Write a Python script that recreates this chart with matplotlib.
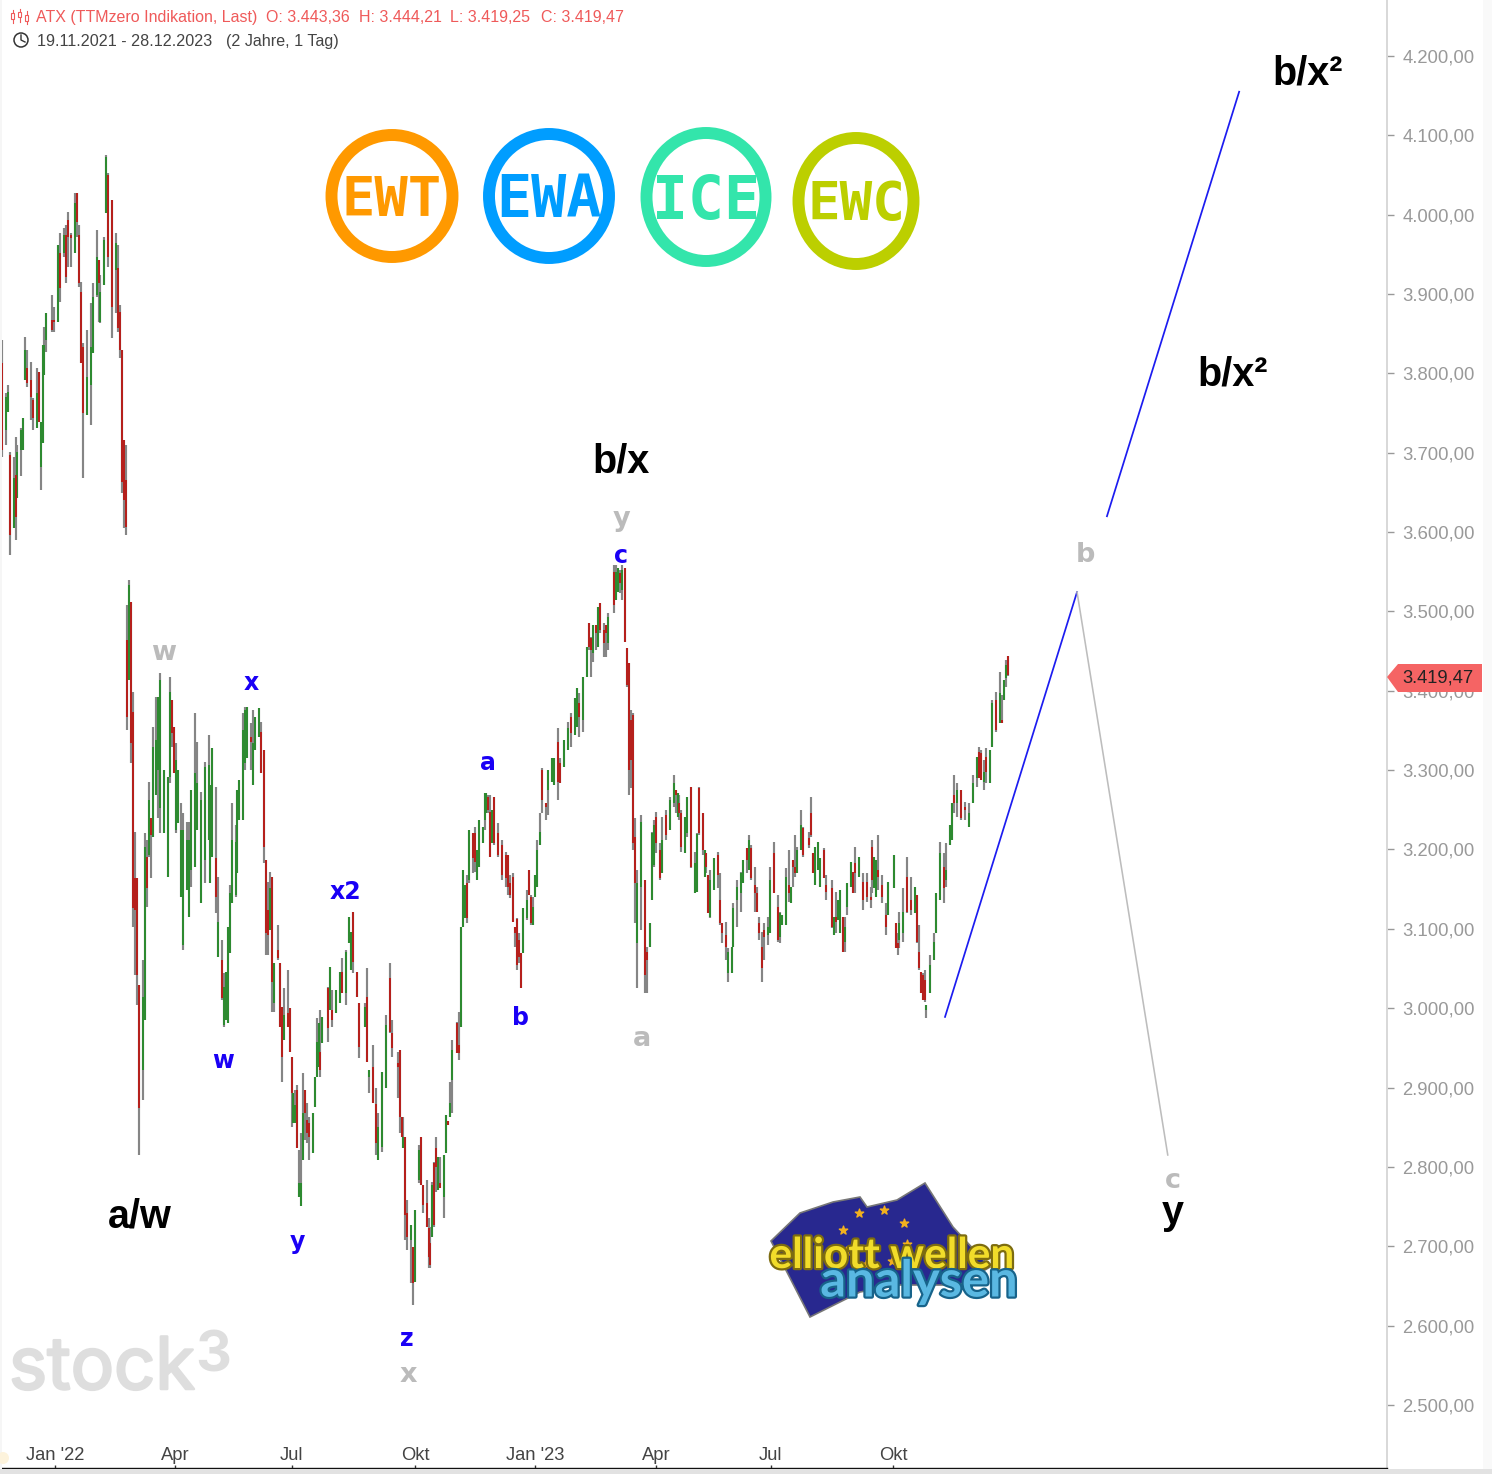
import numpy as np
import matplotlib
matplotlib.use("Agg")
import matplotlib.pyplot as plt
from matplotlib.patches import Polygon, Ellipse, Rectangle
import matplotlib.patheffects as pe

plt.rcParams['font.family'] = ['Liberation Sans', 'DejaVu Sans']

# (session, high, low, open, close)
BARS_A = [(0,3842,3695,3813,3703),(2,3775,3710,3729,3770),(3,3785,3751,3751,3777),(4,3701,3571,3697,3596),
(6,3695,3605,3605,3668),(7,3720,3590,3672,3619),(8,3710,3643,3643,3701),(10,3731,3671,3703,3729),
(11,3744,3703,3703,3744),(12,3846,3792,3792,3830),(13,3830,3783,3807,3788),(15,3814,3741,3792,3770),
(16,3769,3729,3766,3744),(18,3807,3731,3731,3775),(19,3802,3739,3802,3739),(20,3739,3653,3682,3739),
(21,3836,3712,3712,3836),(22,3858,3798,3798,3836),(23,3876,3827,3842,3876),(26,3899,3852,3867,3855),
(27,3884,3852,3867,3865),(29,3962,3865,3865,3962),(30,3977,3890,3952,3908),(32,3983,3947,3952,3974),
(33,3987,3914,3974,3922),(34,4003,3934,3993,3972),(36,3977,3934,3974,3971),(38,4027,3952,3952,4015),
(39,4027,3972,4027,3991),(40,3987,3909,3974,3914),(41,3915,3813,3903,3813),(42,3838,3668,3833,3750),
(44,3855,3748,3748,3796),(46,3889,3735,3785,3833),(47,3914,3826,3826,3896),(49,3981,3896,3899,3947),
(50,3943,3865,3943,3914),(51,3924,3864,3865,3903),(53,3972,3911,3911,3968),(54,4075,4002,4002,4073),
(55,4053,3934,4050,3947),(57,4019,3845,4019,3884),(59,3977,3876,3930,3964),(60,3962,3852,3933,3857),
(61,3886,3819,3877,3830),(62,3830,3649,3830,3663),(63,3716,3605,3716,3640),(64,3710,3596,3666,3606)]

BARS_B = [(65,3508,3351,3464,3367),(66,3540,3414,3414,3533),(67,3512,3309,3512,3334),(68,3398,3102,3373,3126),
(69,3222,3042,3164,3124),(70,3164,3004,3164,3042),(71,3029,2815,3029,2874),(73,3061,2884,2922,3014),
(74,3221,2985,2985,3203),(75,3212,3128,3191,3152),(76,3285,3191,3193,3262),(77,3240,3164,3240,3218),
(78,3354,3216,3216,3329),(80,3392,3269,3269,3338),(81,3392,3240,3300,3392),(82,3422,3221,3252,3414),
(84,3300,3221,3221,3300),(86,3291,3165,3165,3291),(87,3417,3284,3291,3398),(88,3388,3329,3388,3347),
(89,3354,3296,3354,3296),(90,3334,3221,3225,3313),(91,3300,3233,3233,3300),(93,3259,3140,3140,3225),
(94,3246,3073,3080,3225),(96,3235,3149,3149,3212),(97,3235,3115,3115,3212),(98,3275,3153,3174,3275),
(100,3372,3178,3178,3296),(101,3335,3225,3225,3284),(103,3272,3133,3133,3262),(105,3310,3158,3187,3304),
(107,3344,3212,3212,3306),(108,3281,3158,3158,3281),(109,3328,3191,3191,3328),(111,3279,3120,3189,3140),
(112,3165,3065,3065,3109),(114,3086,3010,3061,3013),(115,3044,2976,2979,3027),(116,3046,2985,2985,3046),
(117,3102,2981,2981,3102),(118,3155,3070,3070,3145),(119,3259,3133,3133,3212),(121,3231,3140,3143,3209),
(122,3275,3170,3170,3275),(123,3288,3237,3237,3288),(125,3372,3237,3237,3351),(126,3380,3300,3309,3376),
(127,3380,3315,3315,3380),(129,3359,3300,3342,3336),(130,3376,3281,3281,3334),(131,3367,3325,3325,3367),
(133,3378,3342,3342,3378),(134,3361,3296,3348,3296),(136,3325,3183,3325,3203),(137,3187,3067,3187,3095),
(138,3159,3067,3124,3092),(139,3172,3099,3099,3152),(140,3165,2995,3165,3033),(141,3057,2995,3007,3057),
(143,3105,3061,3073,3063),(144,3057,2976,3057,2976)]

BARS_C = [(145,3001,2907,3001,2938),(146,3025,2960,2960,2991),(148,3048,2976,2994,2976),(149,3000,2945,3000,2945),
(150,2938,2850,2938,2893),(151,2893,2855,2855,2893),(152,2897,2855,2855,2878),(153,2903,2824,2897,2824),
(154,2821,2762,2762,2780),(155,2843,2751,2751,2780),(156,2918,2809,2809,2868),(157,2897,2834,2897,2868),
(158,2880,2830,2859,2843),(159,2863,2809,2855,2838),(161,2868,2817,2817,2868),(162,2913,2876,2876,2913),
(163,2988,2913,2913,2957),(164,2981,2926,2926,2981),(165,2998,2913,2945,2922),(166,2989,2956,2956,2989),
(169,3027,2957,3025,2975),(170,3052,2998,2998,3052),(171,3023,2976,2998,2985),(173,3023,2994,2994,3023),
(175,3046,3007,3007,3046),(176,3063,3019,3046,3019),(178,3073,3004,3019,3071),(180,3115,3082,3082,3115),
(181,3096,3048,3048,3096),(182,3121,3044,3121,3058),(184,3046,3014,3046,3014),(185,3007,2937,3007,2951),
(188,3007,2976,2976,3001),(189,3051,2932,3014,2932),(190,2922,2893,2913,2922),(192,2954,2880,2926,2880),
(194,2899,2815,2879,2830),(195,2868,2809,2809,2850),(197,2920,2819,2825,2920),(199,2991,2899,2899,2979),
(201,3057,2969,3038,2970),(202,2985,2938,2969,2950),(205,2945,2887,2931,2926),(206,2947,2843,2947,2863),
(207,2863,2838,2863,2838),(208,2863,2824,2824,2838),(209,2838,2708,2838,2739),(210,2758,2695,2742,2712),
(212,2727,2654,2708,2727),(213,2699,2626,2699,2654),(214,2746,2655,2655,2746),(216,2828,2780,2783,2821),
(217,2838,2777,2838,2777),(218,2777,2742,2777,2752),(220,2783,2724,2754,2724),(221,2736,2673,2723,2686),
(222,2724,2673,2704,2676),(223,2781,2712,2712,2777),(224,2806,2724,2805,2727),(225,2838,2768,2824,2800),
(226,2812,2771,2771,2812),(227,2812,2773,2780,2773),(229,2815,2736,2762,2815),(230,2865,2817,2817,2865),
(231,2858,2853,2858,2853),(232,2907,2863,2863,2880),(233,2960,2868,2909,2947),(236,2983,2944,2981,2944),
(237,2995,2935,2954,2944),(238,3102,2976,2976,3102),(239,3174,3102,3102,3174)]

BARS_D = [(240,3155,3114,3114,3155),(241,3168,3107,3158,3114),(242,3225,3158,3162,3225),(244,3221,3170,3221,3189),
(245,3228,3172,3221,3184),(246,3199,3162,3162,3199),(247,3237,3178,3178,3237),(249,3228,3208,3208,3228),
(250,3271,3225,3237,3271),(251,3271,3246,3246,3271),(252,3269,3246,3266,3250),(253,3269,3191,3247,3191),
(254,3250,3208,3208,3250),(255,3266,3206,3266,3208),(257,3233,3191,3221,3193),(259,3212,3162,3206,3168),
(261,3197,3153,3193,3164),(262,3193,3143,3193,3153),(263,3168,3139,3158,3143),(265,3170,3109,3165,3109),
(266,3102,3077,3102,3095),(267,3114,3048,3112,3054),(268,3095,3057,3086,3065),(269,3070,3026,3070,3026),
(270,3126,3070,3070,3126),(272,3149,3111,3114,3136),(273,3174,3143,3174,3143),(274,3143,3105,3140,3107),
(275,3140,3105,3105,3128),(276,3168,3140,3140,3168),(277,3212,3153,3153,3199),(279,3246,3206,3206,3222),
(280,3303,3246,3300,3262),(282,3259,3237,3259,3254),(283,3300,3243,3275,3300),(285,3315,3285,3285,3315),
(286,3315,3281,3281,3315),(288,3353,3262,3335,3285),(289,3315,3284,3309,3284),(291,3338,3304,3304,3338),
(293,3361,3325,3325,3353),(295,3372,3329,3367,3347),(297,3391,3344,3344,3391),(298,3404,3354,3354,3404),
(299,3397,3342,3385,3367),(301,3417,3348,3363,3417),(303,3455,3417,3417,3455),(304,3485,3451,3485,3455),
(305,3468,3417,3467,3451),(306,3483,3436,3448,3483),(308,3483,3451,3483,3473),(309,3506,3455,3455,3506),
(310,3511,3473,3511,3477),(312,3485,3442,3477,3460),(313,3483,3442,3483,3473),(314,3498,3451,3460,3493),
(317,3559,3498,3550,3508),(318,3559,3514,3514,3550),(319,3555,3524,3524,3555),(320,3552,3523,3548,3536),
(321,3559,3514,3527,3552),(323,3555,3462,3555,3462),(324,3454,3405,3454,3407),(325,3435,3269,3435,3300),
(326,3376,3278,3363,3313),(327,3372,3199,3370,3208)]

BARS_E = [(328,3240,3107,3216,3158),(329,3174,3025,3082,3158),(331,3243,3098,3153,3235),(333,3162,3019,3162,3042),
(334,3077,3019,3071,3061),(336,3107,3077,3077,3107),(337,3222,3136,3136,3221),(338,3237,3178,3181,3231),
(339,3247,3196,3241,3208),(341,3208,3162,3199,3164),(342,3241,3170,3170,3212),(344,3250,3212,3243,3218),
(346,3266,3225,3225,3262),(348,3294,3254,3259,3284),(349,3275,3246,3275,3269),(350,3271,3241,3241,3271),
(351,3269,3237,3259,3246),(352,3250,3197,3246,3203),(354,3241,3196,3196,3241),(355,3266,3216,3221,3266),
(357,3279,3177,3279,3178),(359,3197,3145,3145,3183),(360,3221,3146,3146,3219),(361,3279,3218,3278,3221),
(363,3246,3193,3246,3199),(364,3199,3165,3165,3199),(365,3196,3170,3196,3178),(366,3168,3120,3168,3120),
(367,3174,3114,3115,3162),(369,3189,3149,3149,3189),(371,3197,3152,3193,3168),(372,3170,3105,3136,3107),
(373,3107,3082,3107,3095),(375,3109,3061,3092,3077),(376,3076,3033,3044,3071),(378,3077,3044,3044,3077),
(379,3133,3077,3077,3126),(381,3162,3102,3136,3153)]

BARS_F = [(383,3172,3121,3145,3170),(384,3187,3158,3158,3187),(386,3202,3170,3202,3187),(387,3218,3174,3174,3212),
(388,3206,3162,3202,3164),(390,3178,3121,3155,3145),(391,3153,3121,3145,3121),(392,3115,3086,3107,3095),
(394,3096,3033,3077,3051),(395,3107,3061,3098,3090),(397,3115,3080,3092,3102),(398,3178,3095,3095,3162),
(400,3209,3145,3196,3145),(402,3143,3083,3128,3086),(403,3121,3082,3090,3120),(404,3117,3105,3105,3117),
(406,3177,3105,3105,3165),(408,3199,3134,3155,3145),(409,3153,3133,3133,3153),(410,3187,3153,3187,3178),
(411,3218,3165,3178,3170),(412,3203,3170,3170,3199),(414,3250,3199,3199,3231),(415,3228,3191,3227,3193),
(418,3222,3202,3214,3206),(419,3266,3216,3246,3218),(420,3196,3170,3196,3170),(421,3203,3155,3155,3203),
(423,3209,3174,3174,3209),(424,3189,3153,3153,3189),(426,3202,3164,3199,3164),(427,3168,3136,3155,3146),
(430,3162,3101,3152,3102),(431,3115,3092,3092,3115),(432,3146,3095,3115,3109),(433,3136,3111,3111,3136),
(434,3149,3095,3095,3149),(436,3115,3071,3115,3071),(437,3115,3071,3083,3102),(438,3158,3117,3128,3158),
(440,3184,3153,3153,3184),(441,3172,3145,3172,3145),(442,3203,3145,3183,3170),(444,3191,3165,3165,3191),
(446,3170,3124,3159,3136),(448,3170,3134,3159,3140),(450,3153,3126,3140,3136),(451,3212,3145,3203,3162),
(452,3191,3152,3152,3191),(453,3187,3140,3140,3187),(454,3218,3149,3174,3165),(456,3168,3133,3155,3140),
(458,3133,3092,3117,3102),(459,3159,3117,3117,3159),(462,3193,3152,3152,3193),(463,3107,3076,3107,3076),
(464,3095,3067,3082,3076),(465,3121,3076,3086,3107),(467,3152,3083,3095,3121),(469,3191,3120,3165,3121),
(471,3165,3117,3136,3124),(473,3153,3120,3120,3153),(474,3143,3082,3143,3083),(475,3105,3048,3071,3051),
(476,3046,3019,3046,3019),(477,3044,3010,3042,3010),(478,3048,3008,3035,3010),(479,3004,2988,2998,3004),
(481,3067,3019,3019,3054),(483,3095,3061,3061,3083),(484,3145,3095,3095,3145),(486,3209,3136,3136,3196),
(488,3196,3133,3178,3152),(489,3208,3153,3162,3174),(491,3231,3206,3206,3231),(492,3259,3212,3212,3259),
(493,3294,3246,3269,3259),(495,3284,3241,3259,3275),(497,3275,3237,3275,3240),(499,3260,3237,3254,3250),
(501,3259,3228,3228,3246),(503,3294,3259,3259,3284),(505,3317,3279,3290,3317),(506,3329,3296,3323,3290),
(507,3325,3288,3322,3288),(509,3313,3275,3285,3298),(510,3328,3284,3317,3298),(512,3325,3284,3284,3325),
(513,3388,3329,3329,3385),(515,3398,3348,3388,3351),(517,3424,3359,3359,3397),(518,3395,3359,3363,3359),
(519,3414,3388,3388,3414),(520,3439,3405,3416,3432),(521,3444.21,3419.25,3443.36,3419.47)]

# projected wave paths (session, price)
WAVE_UP = [(488.6,2989),(557,3524.5)]
WAVE_DOWN = [(557,3524.5),(604,2815)]
WAVE_ALT = [(572.5,3620),(641,4155)]

Y_TICKS = list(range(2500, 4201, 100))
X_TICK_SESSIONS = [27.5, 89.6, 150, 214, 276, 339, 398.4, 461.6]
X_TICK_LABELS = ["Jan '22", "Apr", "Jul", "Okt", "Jan '23", "Apr", "Jul", "Okt"]
LAST_CLOSE = 3419.47

def de(v):
    return f"{v:,.2f}".replace(",", "#").replace(".", ",").replace("#", ".")

W, H = 1492, 1474
fig = plt.figure(figsize=(W/100, H/100), dpi=100, facecolor="white")
ax = fig.add_axes([0, 6/H, 1387/W, 1468/H])
ax.set_xlim(-1.036, 717.6)
ax.set_ylim(2420.5, 4270.6)

rows = np.array(BARS_A + BARS_B + BARS_C + BARS_D + BARS_E + BARS_F, dtype=float)
sess, hi, lo, op, cl = rows.T
RED, GREEN, WICK = "#b5201c", "#2d8a30", "#858585"
ax.vlines(sess, lo, hi, color=WICK, lw=1.55, capstyle="butt", zorder=2)
up = cl >= op
ax.vlines(sess[up], op[up], cl[up], color=GREEN, lw=1.45, capstyle="butt", zorder=3)
ax.vlines(sess[~up], cl[~up], op[~up], color=RED, lw=1.45, capstyle="butt", zorder=3)

ax.plot(*zip(*WAVE_UP), color="#1c1cf0", lw=1.25, zorder=4)
ax.plot(*zip(*WAVE_ALT), color="#1c1cf0", lw=1.25, zorder=4)
ax.plot(*zip(*WAVE_DOWN), color="#bdbdbd", lw=1.15, zorder=4)

for s in ("top", "left"):
    ax.spines[s].set_visible(False)
ax.spines["right"].set_color("#d8d8d8")
ax.spines["right"].set_linewidth(1.4)
ax.spines["bottom"].set_color("#111111")
ax.spines["bottom"].set_linewidth(1.0)
ax.yaxis.tick_right()
ax.set_yticks(Y_TICKS)
ax.set_yticklabels([de(v) for v in Y_TICKS], fontsize=13.3, color="#999999")
ax.tick_params(axis="y", length=5, width=1, color="#999999", pad=6)
ax.set_xticks(X_TICK_SESSIONS)
ax.set_xticklabels(X_TICK_LABELS, fontsize=13.2, color="#444444")
ax.tick_params(axis="x", direction="in", length=2.5, width=1, color="#333333", pad=-15.2)

# overlay in figure pixels
ov = fig.add_axes([0, 0, 1, 1], facecolor="none")
ov.set_xlim(0, W); ov.set_ylim(H, 0); ov.axis("off")

ov.add_patch(Rectangle((0, 1469), W, 5, fc="#e2e2e2", ec="none", zorder=1))
ov.add_patch(Rectangle((1483, 0), 9, 1469, fc="#f9f9f9", ec="none", zorder=1))
ov.add_patch(Rectangle((0, 0), 2, 1469, fc="#f6f6f6", ec="none", zorder=1))
ov.add_patch(Ellipse((3, 1458), 12, 12, fc="#fdf3dc", ec="none", zorder=1))

# header
HC = "#ef5a5a"
for x, t in [(36, "ATX (TTMzero Indikation, Last)"), (266, "O: 3.443,36"), (359, "H: 3.444,21"),
             (450, "L: 3.419,25"), (541, "C: 3.419,47")]:
    ov.text(x, 17, t, fontsize=11.5, color=HC, va="center", ha="left")
for x, y0, y1, b0, b1 in [(12.5, 10, 23, 13, 19), (19.5, 9, 22, 12, 17), (26.5, 11, 24, 15, 21)]:
    ov.plot([x, x], [y0, y1], color=HC, lw=0.8)
    ov.add_patch(Rectangle((x-1.6, b0), 3.2, b1-b0, fc="white", ec=HC, lw=0.8, zorder=3))
ov.add_patch(Ellipse((21, 40), 14, 14, fc="none", ec="#333333", lw=1.1))
ov.plot([21, 21, 25], [35, 40, 42], color="#333333", lw=1.0)
ov.text(37, 41, "19.11.2021 - 28.12.2023", fontsize=11.6, color="#444444", va="center")
ov.text(226, 41, "(2 Jahre, 1 Tag)", fontsize=11.6, color="#444444", va="center")

# price tag
ov.add_patch(Polygon([(1387, 677), (1398, 664), (1482, 664), (1482, 692), (1398, 692)], fc="#f56464", ec="none", zorder=5))
ov.text(1438, 678, de(LAST_CLOSE), fontsize=13.2, color="#222222", ha="center", va="center", zorder=6)

# wave labels
BLUE, GREY = "#1a00f5", "#bbbbbb"
for x, y, t in [(251, 683, "x"), (345, 892, "x2"), (223, 1061, "w"), (297, 1242, "y"), (407, 1339, "z"),
                (488, 763, "a"), (521, 1018, "b"), (621, 556, "c")]:
    ov.text(x, y, t, fontsize=17, fontweight="bold", family="DejaVu Sans", color=BLUE, ha="center", va="center", zorder=6)
for x, y, t in [(164, 653, "w"), (621, 519, "y"), (642, 1039, "a"), (1085, 555, "b"), (1173, 1181, "c"), (408, 1375, "x")]:
    ov.text(x, y, t, fontsize=19.5, fontweight="bold", family="DejaVu Sans", color=GREY, ha="center", va="center", zorder=6)
for x, y, t in [(1308, 73, "b/x²"), (1233, 374, "b/x²"), (621, 461, "b/x"), (140, 1217, "a/w"), (1173, 1213, "y")]:
    ov.text(x, y, t, fontsize=28.5, fontweight="bold", color="black", ha="center", va="center", zorder=6)

# badges
for (cx, cy, w, h, col, t, fs, dy) in [(392, 196, 133, 134, "#ff9900", "EWT", 40, 4),
                                       (549, 196, 132, 136, "#009dff", "EWA", 42, 4),
                                       (706, 197, 131, 140, "#33e5ab", "ICE", 43, 5),
                                       (856, 201, 127, 138, "#bccf00", "EWC", 39, 4)]:
    ov.add_patch(Ellipse((cx, cy), w-12, h-12, fc="none", ec=col, lw=8.6, zorder=3))
    ov.text(cx, cy+dy, t, fontsize=fs, fontweight="bold", family="DejaVu Sans Mono", color=col, ha="center", va="center", zorder=3)

# stock3 watermark
wm = [pe.withStroke(linewidth=1.8, foreground="#dedede")]
ov.text(9, 1389, "stock", fontsize=52, family="Inter", color="#dedede", ha="left", va="baseline", zorder=1, path_effects=wm)
ov.text(213, 1356, "3", fontsize=40, family="Inter", fontweight="bold", color="#dedede", ha="center", va="center", zorder=1)

# Elliott Wellen logo
flag = [(771, 1241), (800, 1213), (833, 1202), (860, 1197), (867, 1207), (897, 1200), (925, 1183), (953, 1227),
        (990, 1267), (960, 1285), (900, 1285), (860, 1292), (810, 1317)]
ov.add_patch(Polygon(flag, fc="#28288f", ec="#777777", lw=1.2, zorder=3))
th = np.radians(np.arange(0, 360, 45) + 15)
ov.scatter(875 + 33*np.cos(th), 1237 + 28*np.sin(th), marker="*", s=40, c="#f2b01e", zorder=4)
ov.text(892, 1256, "elliott wellen", fontsize=30.5, family="Lato", fontweight="bold", color="#f1dc2a", ha="center", va="center", zorder=5,
        path_effects=[pe.withStroke(linewidth=3.2, foreground="#7d6c10")])
ov.text(919, 1282, "analysen", fontsize=36.5, family="Lato", fontweight="bold", color="#5ab8e2", ha="center", va="center", zorder=6,
        path_effects=[pe.withStroke(linewidth=3.2, foreground="#17638a")])

fig.savefig("out.png", dpi=100)
